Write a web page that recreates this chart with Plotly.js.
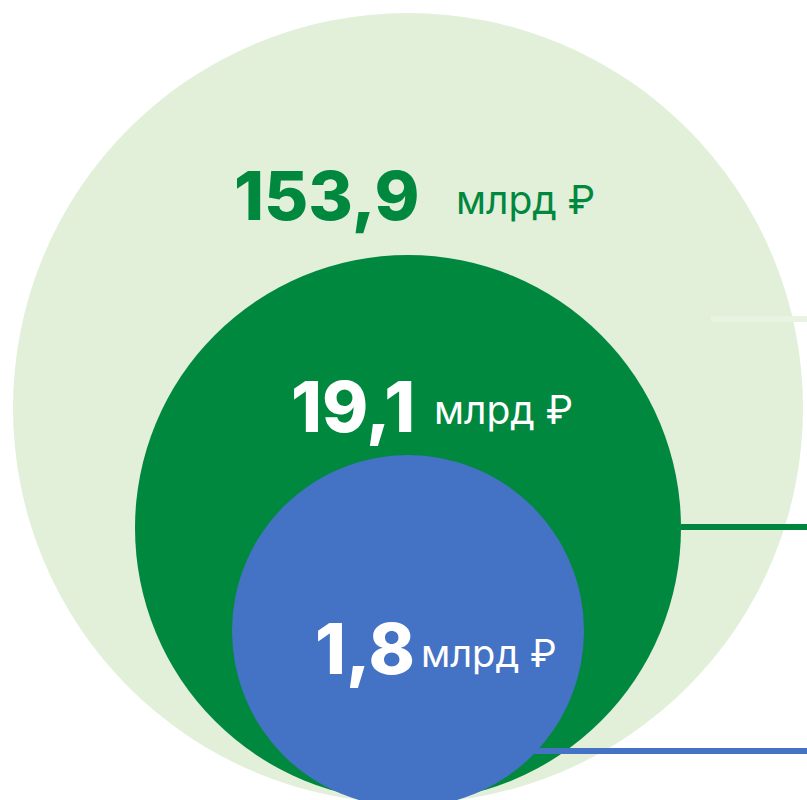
<!DOCTYPE html>
<html>
<head>
<meta charset="utf-8">
<script src="https://cdn.plot.ly/plotly-3.0.1.min.js"></script>
<style>html,body{margin:0;padding:0;background:#fff;}#chart{width:807px;height:800px;}</style>
</head>
<body>
<div id="chart"></div>
<script>
// Data
const values = [153.9, 19.1, 1.8];
const unitLabel = "млрд ₽";
const seriesNames = ["outer", "middle", "inner"];

// Styles / geometry (not data)
const fillColors = ["#e2efd9", "#00883f", "#4472c4"];
const numColors = ["#00883f", "#ffffff", "#ffffff"];
const circles = [
  {cx: 408, cy: 408, r: 395},
  {cx: 408, cy: 528, r: 273},
  {cx: 408, cy: 631, r: 176}
];
const leaders = [
  {x0: 711, y: 319, color: "#e9f3e2"},
  {x0: 681, y: 527, color: "#00853e"},
  {x0: 530, y: 751, color: "#4472c4"}
];
const numPos = [{x: 232, y: 195, size: 68}, {x: 289, y: 406, size: 70}, {x: 313, y: 648, size: 70}];
const unitPos = [{x: 454, y: 199, size: 39}, {x: 432, y: 409, size: 39}, {x: 419, y: 653, size: 38}];

function fmt(v) { return v.toFixed(1).replace(".", ","); }

const shapes = [];
circles.forEach((c, i) => {
  shapes.push({type: "circle", xref: "x", yref: "y", x0: c.cx - c.r, x1: c.cx + c.r, y0: c.cy - c.r, y1: c.cy + c.r,
    fillcolor: fillColors[i], line: {width: 0}, layer: "below"});
});
leaders.forEach(l => {
  shapes.push({type: "line", xref: "x", yref: "y", x0: l.x0, x1: 807, y0: l.y, y1: l.y,
    line: {color: l.color, width: 6}, layer: "below"});
});

const annotations = [];
values.forEach((v, i) => {
  annotations.push({x: numPos[i].x, y: numPos[i].y, xref: "x", yref: "y", xanchor: "left", yanchor: "middle",
    text: fmt(v), showarrow: false,
    font: {family: "Inter, 'Open Sans', sans-serif", size: numPos[i].size, color: numColors[i], weight: 800}});
  annotations.push({x: unitPos[i].x, y: unitPos[i].y, xref: "x", yref: "y", xanchor: "left", yanchor: "middle",
    text: unitLabel, showarrow: false,
    font: {family: "Inter, 'Open Sans', sans-serif", size: unitPos[i].size, color: numColors[i], weight: 400}});
});

const trace = {x: circles.map(c => c.cx), y: circles.map(c => c.cy), mode: "markers", type: "scatter",
  marker: {size: 1, opacity: 0}, hoverinfo: "skip", showlegend: false, name: seriesNames.join(",")};

const layout = {
  width: 807, height: 800,
  margin: {l: 0, r: 0, t: 0, b: 0},
  paper_bgcolor: "#ffffff", plot_bgcolor: "rgba(0,0,0,0)",
  xaxis: {range: [0, 807], visible: false, fixedrange: true},
  yaxis: {range: [800, 0], visible: false, fixedrange: true},
  shapes: shapes, annotations: annotations, showlegend: false
};
Plotly.newPlot("chart", [trace], layout, {displayModeBar: false, staticPlot: true});
</script>
</body>
</html>
